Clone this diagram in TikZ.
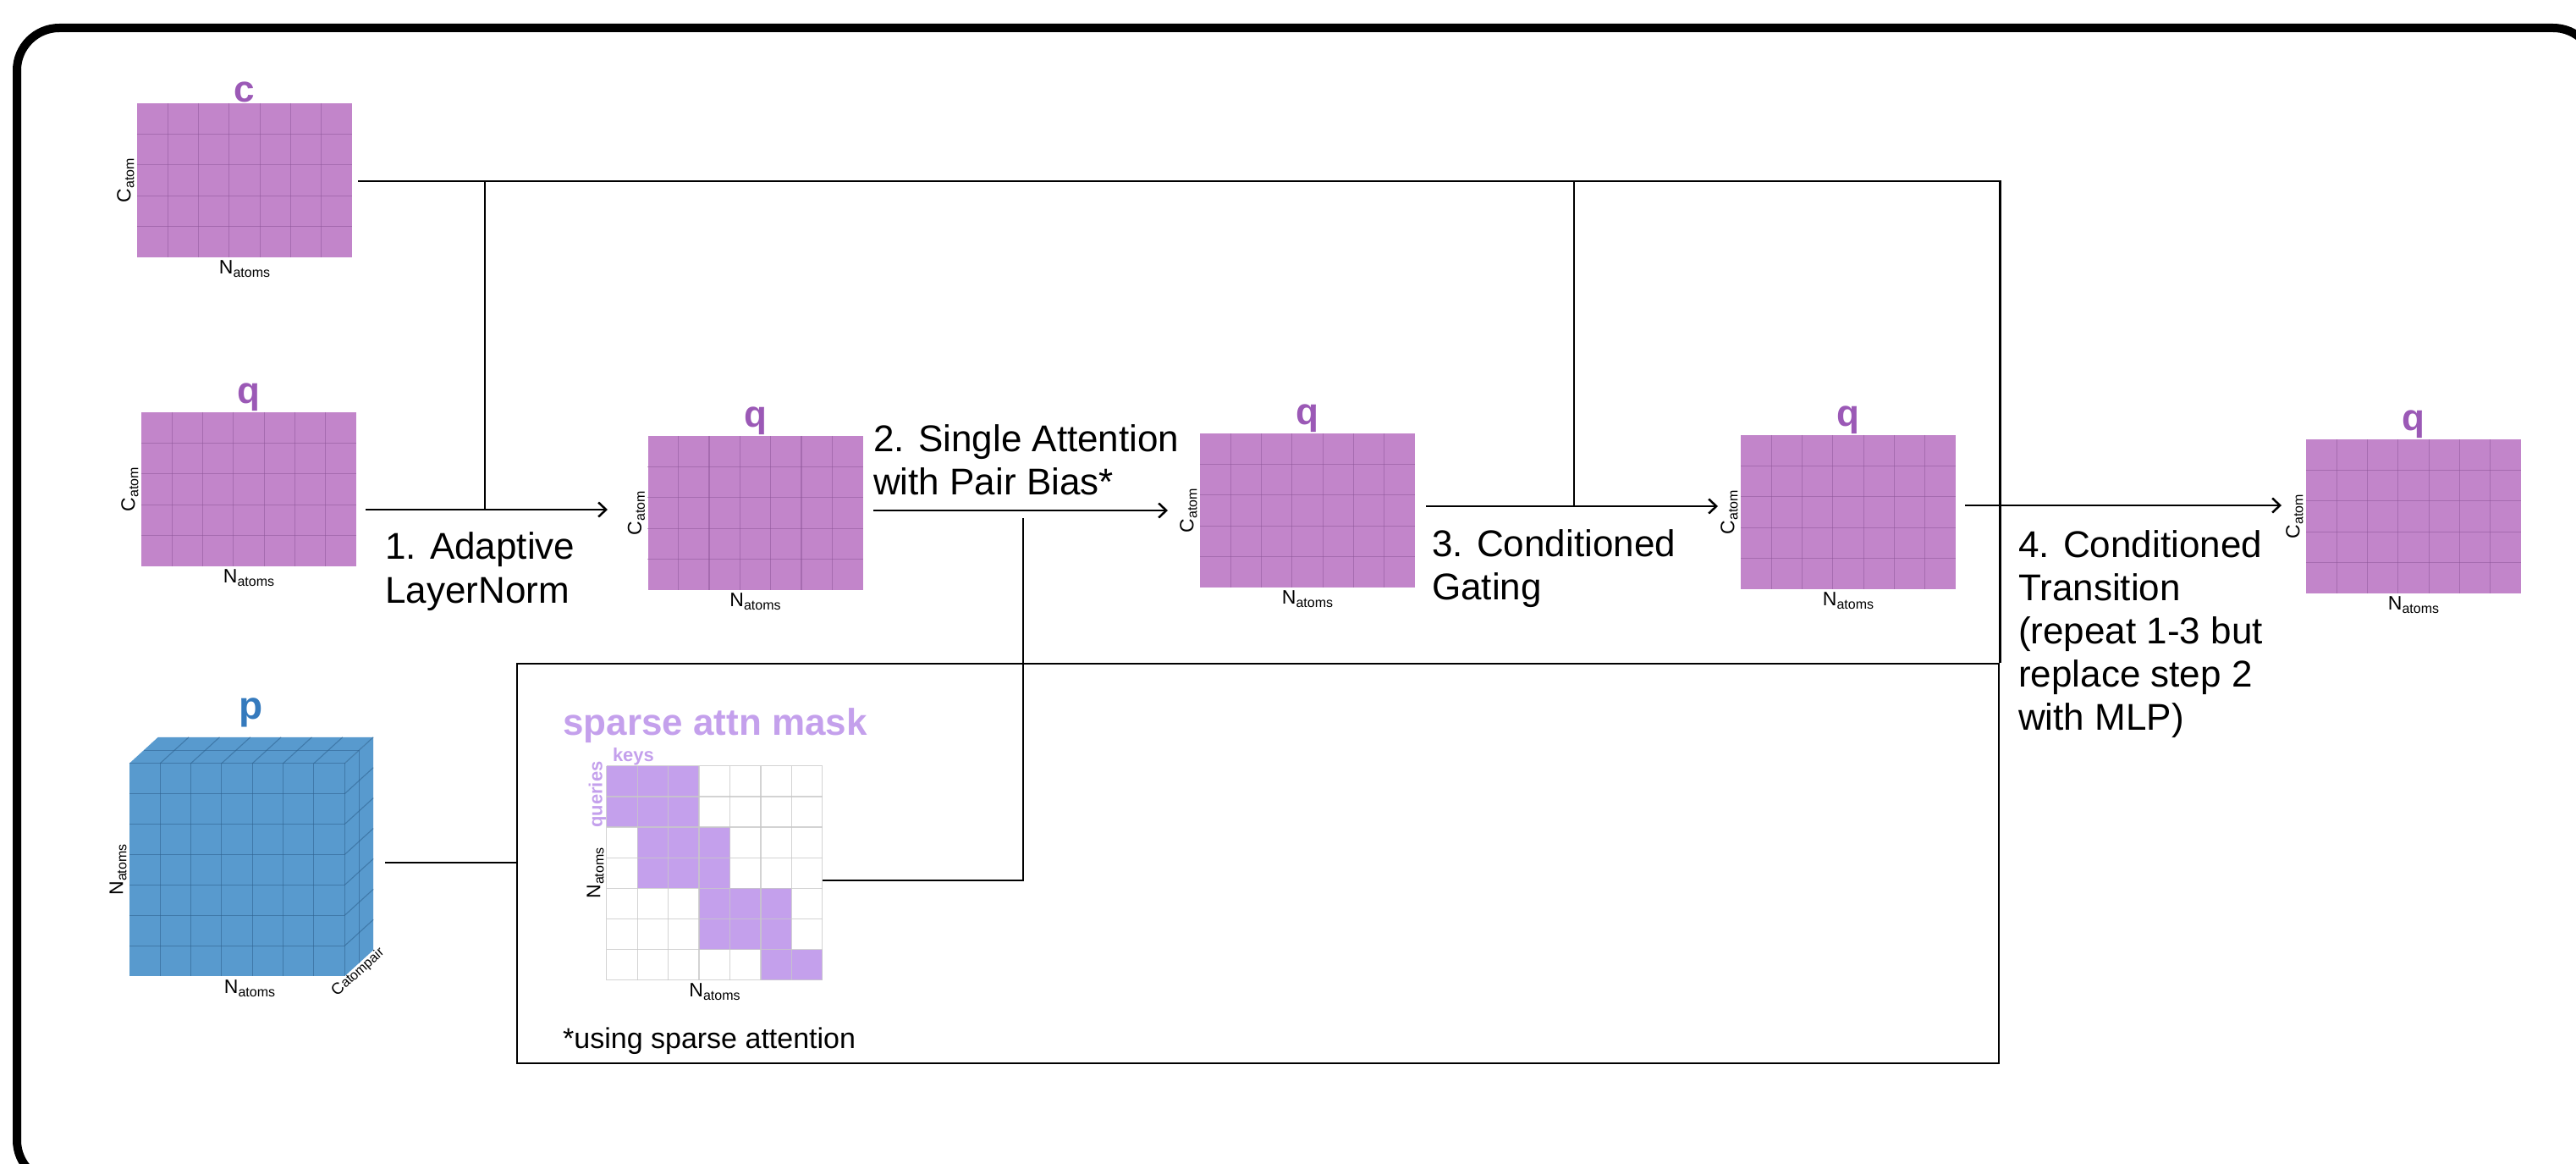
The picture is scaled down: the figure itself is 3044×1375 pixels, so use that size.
\documentclass[tikz,border=0pt]{standalone}
\usepackage{fontspec}
\setmainfont{Liberation Sans}
\usetikzlibrary{arrows.meta,calc}

\definecolor{matfill}{RGB}{194,133,202}
\definecolor{matgridc}{RGB}{140,85,152}
\definecolor{lblpurple}{RGB}{155,89,182}
\definecolor{cubefill}{RGB}{88,154,206}
\definecolor{cubegridc}{RGB}{45,95,140}
\definecolor{lblblue}{RGB}{53,122,189}
\definecolor{lav}{RGB}{196,160,236}
\definecolor{maskgridc}{RGB}{200,200,200}

% axis label with a lowered, smaller index
\newcommand\axlbl[2]{#1\raisebox{-4pt}{\fontsize{16}{16}\selectfont #2}}

% a feature matrix (7 x 5 cells) with its two axis labels
\newcommand\featmat[3]{%
  \node[mat] (#1) at (#2,#3) {};
  \foreach \k in {1,...,6}
    \draw[matgrid] ($(#1.north west)!\k/7!(#1.north east)$) -- ($(#1.south west)!\k/7!(#1.south east)$);
  \foreach \k in {1,...,4}
    \draw[matgrid] ($(#1.north west)!\k/5!(#1.south west)$) -- ($(#1.north east)!\k/5!(#1.south east)$);
  \node[axis, rotate=90, anchor=south] (#1-c) at (#1.west) {\axlbl{C}{atom}};
  \node[axis, anchor=north] (#1-n) at (#1.south) {\axlbl{N}{atoms}};
}

\begin{document}
\begin{tikzpicture}[x=1pt,y=-1pt,
  mat/.style={fill=matfill, draw=none, inner sep=0pt, minimum width=254pt, minimum height=182pt},
  matgrid/.style={draw=matgridc, line width=1.2pt, opacity=0.5},
  cubegrid/.style={draw=cubegridc, line width=1.1pt, opacity=0.55},
  headlbl/.style={font=\fontsize{44}{44}\selectfont\bfseries, text=lblpurple, inner sep=1pt, anchor=south},
  axis/.style={font=\fontsize{23}{23}\selectfont, inner sep=3pt},
  steptext/.style={font=\fontsize{44}{51}\selectfont, inner sep=0pt, anchor=base west},
  conn/.style={line width=2.5pt, draw=black},
  arr/.style={conn, -{Straight Barb[length=9pt,width=17pt]}},
]
\useasboundingbox (0,0) rectangle (3044,1375);
\clip (0,0) rectangle (3044,1375);

% outer frame
\draw[line width=10pt, rounded corners=50pt] (20,33) rectangle (3067,1397);

% ---- feature matrices ----
\featmat{c}{289}{213}
\node[headlbl] (c-h) at (c.north) {c};
\featmat{q1}{294}{578}
\node[headlbl] (q1-h) at (q1.north) {q};
\featmat{q2}{892.5}{606}
\node[headlbl] (q2-h) at (q2.north) {q};
\featmat{q3}{1545}{603}
\node[headlbl] (q3-h) at (q3.north) {q};
\featmat{q4}{2184}{605}
\node[headlbl] (q4-h) at (q4.north) {q};
\featmat{q5}{2852}{610}
\node[headlbl] (q5-h) at (q5.north) {q};

% ---- pair representation cube ----
\node[fill=cubefill, inner sep=0pt, minimum width=254pt, minimum height=251pt] (pcube) at (280,1027.5) {};
\fill[cubefill] (pcube.north west) -- ++(34,-31) -- ($(pcube.north east)+(34,-31)$) -- (pcube.north east) -- cycle;
\fill[cubefill] (pcube.north east) -- ++(34,-31) -- ($(pcube.south east)+(34,-31)$) -- (pcube.south east) -- cycle;
\foreach \k in {1,...,6} {
  \draw[cubegrid] ($(pcube.north west)!\k/7!(pcube.north east)$) -- ($(pcube.south west)!\k/7!(pcube.south east)$);
  \draw[cubegrid] ($(pcube.north west)!\k/7!(pcube.south west)$) -- ($(pcube.north east)!\k/7!(pcube.south east)$);
  \draw[cubegrid] ($(pcube.north west)!\k/7!(pcube.north east)$) -- ++(34,-31);
  \draw[cubegrid] ($(pcube.north east)!\k/7!(pcube.south east)$) -- ++(34,-31);
}
\draw[cubegrid] (pcube.north west) -- (pcube.north east) -- (pcube.south east);
\draw[cubegrid] ($(pcube.north west)+(17,-15.5)$) -- ($(pcube.north east)+(17,-15.5)$) -- ($(pcube.south east)+(17,-15.5)$);
\draw[cubegrid] (pcube.north east) -- ++(34,-31);
\node[font=\fontsize{46}{46}\selectfont\bfseries, text=lblblue, inner sep=1pt, anchor=south] (p-h) at (297,860) {p};
\node[axis, rotate=90, anchor=south] (p-c) at (pcube.west) {\axlbl{N}{atoms}};
\node[axis, anchor=north] (p-n) at (295,1154) {\axlbl{N}{atoms}};
\node[font=\fontsize{19}{19}\selectfont, rotate=42, inner sep=0pt] (p-d) at (423,1148) {C{\fontsize{16}{16}\selectfont atompair}};

% ---- sparse attention mask ----
\node[fill=white, inner sep=0pt, minimum width=255pt, minimum height=253pt] (mask) at (844.5,1031.5) {};
\foreach \rr/\cc in {0/0,0/1,0/2,1/0,1/1,1/2,2/1,2/2,2/3,3/1,3/2,3/3,4/3,4/4,4/5,5/3,5/4,5/5,6/5,6/6}
  \fill[lav] ($(mask.north west)+(\cc*36.43,\rr*36.14)$) rectangle ++(36.43,36.14);
\foreach \k in {0,...,7} {
  \draw[maskgridc, line width=1.3pt, opacity=0.8] ($(mask.north west)+(\k*36.43,0)$) -- ($(mask.south west)+(\k*36.43,0)$);
  \draw[maskgridc, line width=1.3pt, opacity=0.8] ($(mask.north west)+(0,\k*36.14)$) -- ($(mask.north east)+(0,\k*36.14)$);
}
\node[font=\fontsize{44}{44}\selectfont\bfseries, text=lav, inner sep=0pt, anchor=base west] (mtitle) at (665,868) {sparse attn mask};
\node[font=\fontsize{22}{22}\selectfont\bfseries, text=lav, inner sep=1pt, anchor=south west] (keys) at ($(mask.north west)+(6,0)$) {keys};
\node[font=\fontsize{22}{22}\selectfont\bfseries, text=lav, inner sep=0.5pt, rotate=90, anchor=south east] (queries) at ($(mask.north west)+(0,-6)$) {queries};
\node[axis, rotate=90, anchor=south] (mask-c) at (mask.west) {\axlbl{N}{atoms}};
\node[axis, anchor=north] (mask-n) at (mask.south) {\axlbl{N}{atoms}};
\node[font=\fontsize{34}{34}\selectfont, inner sep=0pt, anchor=base west] (note) at (665,1238) {*using sparse attention};

% ---- lower box ----
\node[conn, draw, inner sep=0pt, minimum width=1751pt, minimum height=472pt] (box) at (1486.5,1020) {};

% ---- step labels ----
\node[steptext] (s1a) at (455,660) {1. Adaptive};
\node[steptext] (s1b) at (455,712) {LayerNorm};
\node[steptext] (s2a) at (1032,533) {2. Single Attention};
\node[steptext] (s2b) at (1032,584) {with Pair Bias*};
\node[steptext] (s3a) at (1692,657) {3. Conditioned};
\node[steptext] (s3b) at (1692,708) {Gating};
\node[steptext] (s4a) at (2385,658) {4. Conditioned};
\node[steptext] (s4b) at (2385,709) {Transition};
\node[steptext] (s4c) at (2385,760) {(repeat 1-3 but};
\node[steptext] (s4d) at (2385,811) {replace step 2};
\node[steptext] (s4e) at (2385,862) {with MLP)};

% ---- connectors ----
\coordinate (cs) at ($(c.east)+(7,1)$);
\coordinate (j1) at (573,214);
\coordinate (j3) at (1860,214);
\coordinate (cr) at (box.north east |- cs);
\draw[conn] (cs) -- (cr) -- (box.north east);

\coordinate (a1s) at (432,602);
\coordinate (a1e) at (718,602);
\coordinate (a1j) at (573,602);
\draw[arr] (a1s) -- (a1e);
\draw[conn] (j1) -- (a1j);

\coordinate (a2s) at (1032,603);
\coordinate (a2e) at (1380,603);
\draw[arr] (a2s) -- (a2e);
\coordinate (v2t) at (1209,612);
\coordinate (v2b) at (1209,1040);
\coordinate (mr) at (mask.east |- v2b);
\draw[conn] (v2t) -- (v2b) -- (mr);

\coordinate (a3s) at (1685,598);
\coordinate (a3e) at (2030,598);
\coordinate (a3j) at (1860,598);
\draw[arr] (a3s) -- (a3e);
\draw[conn] (j3) -- (a3j);

\coordinate (a4s) at (2322,597);
\coordinate (a4e) at (2696,597);
\draw[arr] (a4s) -- (a4e);

\coordinate (ps) at (455,1019);
\coordinate (pe) at (box.west |- ps);
\draw[conn] (ps) -- (pe);
\end{tikzpicture}
\end{document}
